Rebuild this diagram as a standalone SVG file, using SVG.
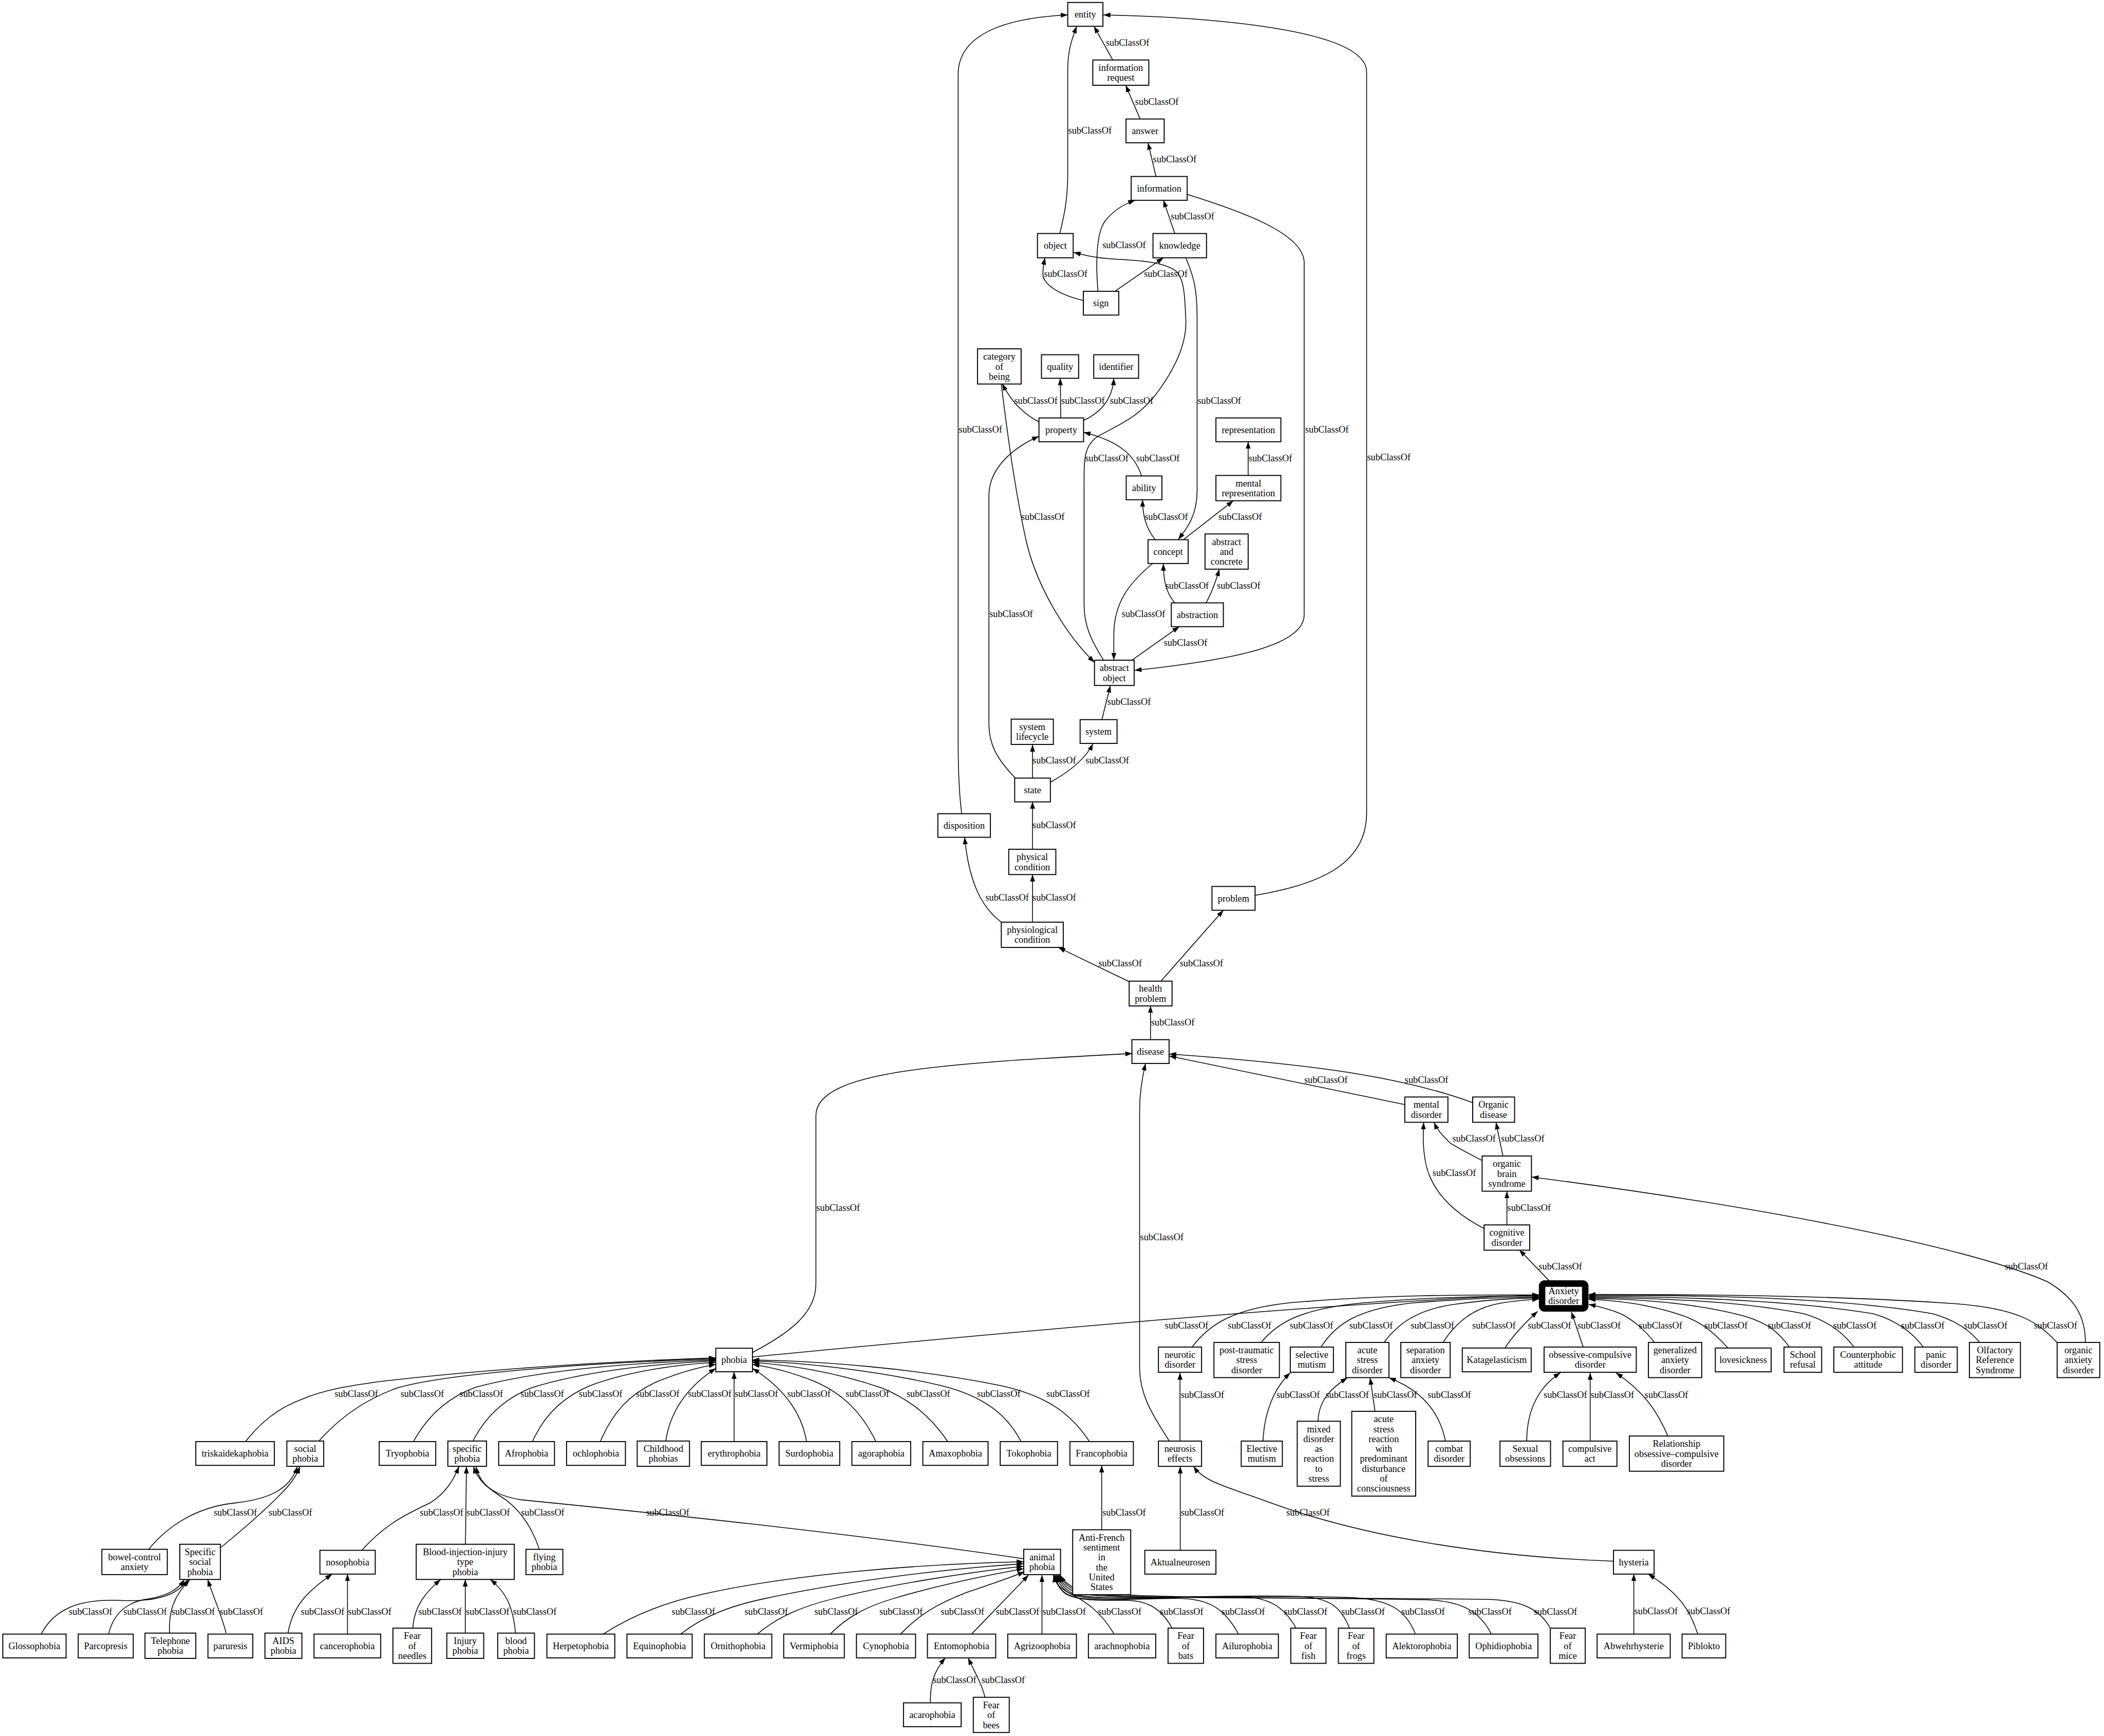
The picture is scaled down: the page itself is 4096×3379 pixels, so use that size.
<svg xmlns="http://www.w3.org/2000/svg" width="4096" height="3379" viewBox="0 0 4096 3379">
<defs>
<marker id="ah" markerUnits="userSpaceOnUse" markerWidth="14" markerHeight="10" refX="14" refY="5" orient="auto" viewBox="0 0 14 10"><path d="M0,0L14,5L0,10z" fill="#000" stroke="none"/></marker>
</defs>
<style>
.n rect{fill:#fff;stroke:#000;stroke-width:2}
text{font-family:"Liberation Serif","Times New Roman",serif;font-size:19px;fill:#000}
.n text{text-anchor:middle}
.e path{fill:none;stroke:#000;stroke-width:1.6;marker-end:url(#ah)}
.e text{text-anchor:start}
</style>
<rect width="4096" height="3379" fill="#fff"/>
<g transform="scale(0.965)">
<g id="connectors" class="e">
<path d="M2245,121 L2207,53"/><text x="2231" y="92.5">subClassOf</text>
<path d="M2300,240 L2271,172"/><text x="2290" y="211.5">subClassOf</text>
<path d="M2332,356 L2316,288"/><text x="2326" y="327">subClassOf</text>
<path d="M2370,471 L2347,404"/><text x="2362" y="443">subClassOf</text>
<path d="M2138,471 C2148,430 2154,400 2154,350 L2154,140 C2154,100 2164,75 2172,53"/><text x="2155" y="269.5">subClassOf</text>
<path d="M2215,587 C2211,540 2210,470 2230,445 C2250,420 2272,410 2290,404"/><text x="2224" y="501">subClassOf</text>
<path d="M2185,606 C2140,595 2102,575 2104,550 C2104,540 2106,530 2108,520"/><text x="2106" y="559">subClassOf</text>
<path d="M2250,587 L2347,520"/><text x="2308" y="559">subClassOf</text>
<path d="M2226,1331 C2200,1290 2187,1260 2187,1220 L2187,985 C2187,930 2185,900 2215,880 C2260,855 2300,840 2336,790 C2380,730 2395,680 2392,640 C2390,600 2390,560 2370,545 C2340,525 2280,525 2240,522 C2210,520 2190,515 2166,509"/><text x="2189" y="930.5">subClassOf</text>
<path d="M2395,392 C2500,425 2631,470 2631,530 L2631,1240 C2631,1300 2500,1330 2289,1352"/><text x="2633" y="872.5">subClassOf</text>
<path d="M2392,520 C2410,560 2415,590 2415,640 L2415,990 C2415,1040 2395,1065 2377,1088"/><text x="2416" y="814">subClassOf</text>
<path d="M2096,851 C2065,835 2040,810 2022,774"/><text x="2046" y="814.5">subClassOf</text>
<path d="M2140,843 L2139,763"/><text x="2141" y="814.5">subClassOf</text>
<path d="M2186,848 C2225,830 2245,800 2247,763"/><text x="2239" y="814.5">subClassOf</text>
<path d="M2303,960 C2290,920 2260,890 2186,872"/><text x="2292" y="930.5">subClassOf</text>
<path d="M2048,1569 C2010,1530 1995,1500 1995,1460 L1995,1000 C1995,940 2050,900 2096,880"/><text x="1996" y="1244.5">subClassOf</text>
<path d="M2020,774 C2035,900 2050,1000 2070,1090 C2090,1180 2150,1280 2208,1336"/><text x="2060" y="1048.5">subClassOf</text>
<path d="M2330,1088 C2312,1065 2305,1040 2305,1008"/><text x="2309" y="1048.5">subClassOf</text>
<path d="M2518,959 L2518,891"/><text x="2519" y="930.5">subClassOf</text>
<path d="M2388,1088 L2488,1010"/><text x="2458" y="1048.5">subClassOf</text>
<path d="M2326,1136 C2285,1170 2247,1210 2247,1280 L2247,1331"/><text x="2263" y="1244.5">subClassOf</text>
<path d="M2370,1216 C2352,1195 2347,1170 2347,1137"/><text x="2351" y="1187.5">subClassOf</text>
<path d="M2433,1216 C2445,1195 2452,1175 2460,1148"/><text x="2455" y="1187.5">subClassOf</text>
<path d="M2283,1332 L2379,1264"/><text x="2348" y="1303">subClassOf</text>
<path d="M2223,1451 L2240,1383"/><text x="2234" y="1421.5">subClassOf</text>
<path d="M2083,1569 L2083,1502"/><text x="2083" y="1540">subClassOf</text>
<path d="M2119,1578 C2160,1555 2190,1530 2205,1500"/><text x="2190" y="1540">subClassOf</text>
<path d="M2083,1713 L2083,1617"/><text x="2083" y="1670">subClassOf</text>
<path d="M2083,1860 L2083,1764"/><text x="2083" y="1817">subClassOf</text>
<path d="M2020,1860 C1980,1830 1955,1780 1946,1689"/><text x="1988" y="1817">subClassOf</text>
<path d="M1940,1641 C1935,1600 1933,1560 1933,1500 L1933,150 C1933,60 2050,35 2154,30"/><text x="1934" y="872.5">subClassOf</text>
<path d="M2532,1806 C2650,1785 2757,1750 2757,1640 L2757,145 C2757,60 2450,35 2226,30"/><text x="2758" y="928.5">subClassOf</text>
<path d="M2278,1980 L2135,1911"/><text x="2216" y="1949.5">subClassOf</text>
<path d="M2342,1979 L2468,1836"/><text x="2380" y="1949.5">subClassOf</text>
<path d="M2321,2097 L2321,2029"/><text x="2322" y="2068">subClassOf</text>
<path d="M2834,2228 L2359,2130"/><text x="2631" y="2184.5">subClassOf</text>
<path d="M2971,2224 C2850,2180 2700,2150 2359,2126"/><text x="2834" y="2184.5">subClassOf</text>
<path d="M2990,2341 C2960,2325 2935,2312 2925,2305 C2910,2290 2900,2280 2893,2264"/><text x="2930" y="2303">subClassOf</text>
<path d="M3032,2332 L3018,2264"/><text x="3028" y="2303">subClassOf</text>
<path d="M2994,2478 C2930,2445 2885,2400 2875,2340 C2870,2310 2871,2290 2872,2264"/><text x="2890" y="2372.5">subClassOf</text>
<path d="M3040,2471 L3040,2403"/><text x="3041" y="2442">subClassOf</text>
<path d="M3125,2583 L3065,2521"/><text x="3104" y="2560.5">subClassOf</text>
<path d="M4207,2708 C4207,2660 4190,2620 4130,2585 C3980,2520 3600,2440 3090,2374"/><text x="4044" y="2560.5">subClassOf</text>
<path d="M2359,2907 C2330,2860 2300,2820 2299,2760 L2299,2240 C2299,2200 2305,2170 2311,2145"/><text x="2300" y="2501.5">subClassOf</text>
<path d="M1518,2728 C1590,2690 1646,2650 1646,2590 L1646,2250 C1646,2160 1900,2145 2284,2125"/><text x="1647" y="2442.5">subClassOf</text>
<path d="M1518,2737 C1900,2700 2700,2625 3105,2612"/><text x="2350" y="2679.5">subClassOf</text>
<path d="M2405,2717 C2440,2670 2490,2640 2600,2628 C2800,2610 3000,2612 3105,2612"/><text x="2477" y="2679.5">subClassOf</text>
<path d="M2544,2708 C2575,2670 2620,2640 2750,2628 C2900,2615 3050,2614 3105,2614"/><text x="2602" y="2679.5">subClassOf</text>
<path d="M2665,2717 C2695,2670 2740,2640 2850,2628 C2950,2620 3050,2616 3105,2616"/><text x="2722" y="2679.5">subClassOf</text>
<path d="M2792,2708 C2820,2670 2860,2640 2940,2630 C3000,2622 3060,2618 3105,2618"/><text x="2846" y="2679.5">subClassOf</text>
<path d="M2911,2708 C2935,2670 2970,2640 3020,2630 C3050,2624 3080,2622 3105,2620"/><text x="2970" y="2679.5">subClassOf</text>
<path d="M3036,2719 C3055,2690 3080,2665 3102,2645"/><text x="3082" y="2679.5">subClassOf</text>
<path d="M3194,2717 L3170,2646"/><text x="3182" y="2679.5">subClassOf</text>
<path d="M3338,2708 C3320,2685 3295,2662 3270,2650 C3245,2640 3225,2635 3205,2631"/><text x="3306" y="2679.5">subClassOf</text>
<path d="M3486,2719 C3455,2685 3430,2665 3390,2652 C3330,2632 3260,2622 3205,2621"/><text x="3438" y="2679.5">subClassOf</text>
<path d="M3610,2717 C3590,2690 3570,2670 3520,2655 C3420,2628 3300,2620 3205,2619"/><text x="3566" y="2679.5">subClassOf</text>
<path d="M3740,2717 C3720,2690 3690,2665 3640,2650 C3500,2622 3320,2618 3205,2617"/><text x="3698" y="2679.5">subClassOf</text>
<path d="M3880,2717 C3860,2690 3830,2665 3780,2650 C3600,2620 3350,2615 3205,2615"/><text x="3835" y="2679.5">subClassOf</text>
<path d="M3994,2708 C3975,2685 3950,2665 3900,2650 C3700,2615 3400,2612 3205,2613"/><text x="3962" y="2679.5">subClassOf</text>
<path d="M4150,2708 C4110,2665 4070,2640 3950,2630 C3700,2612 3400,2611 3205,2611"/><text x="4103" y="2679.5">subClassOf</text>
<path d="M2380.5,2907 L2380.5,2769"/><text x="2382" y="2819.5">subClassOf</text>
<path d="M2548,2907 C2550,2850 2570,2800 2603,2769"/><text x="2575" y="2819.5">subClassOf</text>
<path d="M2659,2867 C2660,2825 2685,2800 2718,2779"/><text x="2674" y="2819.5">subClassOf</text>
<path d="M2774,2847 L2764,2779"/><text x="2771" y="2819.5">subClassOf</text>
<path d="M2916,2907 C2905,2850 2870,2805 2802,2779"/><text x="2880" y="2819.5">subClassOf</text>
<path d="M3080,2907 C3080,2850 3100,2800 3148,2769"/><text x="3114" y="2819.5">subClassOf</text>
<path d="M3208,2907 L3208,2769"/><text x="3209" y="2819.5">subClassOf</text>
<path d="M3365,2897 C3345,2850 3320,2810 3260,2769"/><text x="3318" y="2819.5">subClassOf</text>
<path d="M2381,3127 L2381,2958"/><text x="2382" y="3056.5">subClassOf</text>
<path d="M3255,3149 C3000,3140 2750,3100 2560,3030 C2480,3000 2430,2990 2408,2958"/><text x="2595" y="3056.5">subClassOf</text>
<path d="M3296,3296 L3296,3175"/><text x="3297" y="3255.5">subClassOf</text>
<path d="M3425,3296 C3410,3250 3390,3215 3325,3175"/><text x="3403" y="3255.5">subClassOf</text>
<path d="M2222.5,3086 L2222.5,2956"/><text x="2224" y="3056.5">subClassOf</text>
<path d="M495,2908 C525,2870 560,2840 610,2822 C650,2805 700,2795 780,2785 C1000,2760 1250,2745 1444,2739"/><text x="675" y="2817.5">subClassOf</text>
<path d="M643,2907 C680,2865 730,2825 800,2800 C900,2770 1200,2748 1444,2741"/><text x="808" y="2817.5">subClassOf</text>
<path d="M834,2908 C860,2860 900,2820 960,2798 C1100,2760 1300,2748 1444,2743"/><text x="927" y="2817.5">subClassOf</text>
<path d="M954,2907 C975,2865 1010,2825 1070,2800 C1180,2765 1330,2750 1444,2745"/><text x="1050" y="2817.5">subClassOf</text>
<path d="M1074,2908 C1095,2860 1130,2820 1190,2795 C1270,2765 1370,2752 1444,2748"/><text x="1168" y="2817.5">subClassOf</text>
<path d="M1211,2908 C1235,2850 1270,2810 1330,2785 C1380,2765 1420,2756 1444,2752"/><text x="1283" y="2817.5">subClassOf</text>
<path d="M1343,2907 C1350,2860 1375,2805 1444,2760"/><text x="1388" y="2817.5">subClassOf</text>
<path d="M1481,2908 L1481,2767"/><text x="1482" y="2817.5">subClassOf</text>
<path d="M1627,2908 C1620,2860 1590,2805 1518,2760"/><text x="1588" y="2817.5">subClassOf</text>
<path d="M1767,2908 C1740,2850 1700,2810 1640,2785 C1590,2765 1545,2756 1518,2752"/><text x="1706" y="2817.5">subClassOf</text>
<path d="M1912,2908 C1880,2860 1840,2825 1780,2800 C1680,2765 1580,2752 1518,2748"/><text x="1829" y="2817.5">subClassOf</text>
<path d="M2060,2908 C2030,2850 1980,2815 1900,2795 C1750,2760 1600,2748 1518,2745"/><text x="1971" y="2817.5">subClassOf</text>
<path d="M2198,2908 C2160,2850 2110,2815 2020,2795 C1850,2760 1650,2745 1518,2743"/><text x="2111" y="2817.5">subClassOf</text>
<path d="M300,3125 C340,3075 400,3040 470,3032 C540,3025 585,3005 600,2958"/><text x="431" y="3057">subClassOf</text>
<path d="M446,3121 C490,3085 530,3050 560,3020 C585,2995 597,2980 605,2958"/><text x="542" y="3057">subClassOf</text>
<path d="M83,3296 C110,3245 160,3225 240,3228 C320,3232 360,3215 379,3186"/><text x="139" y="3256.5">subClassOf</text>
<path d="M219,3296 C230,3250 260,3230 300,3225 C340,3218 360,3205 372,3186"/><text x="249" y="3256.5">subClassOf</text>
<path d="M342,3294 C340,3250 350,3220 383,3186"/><text x="346" y="3256.5">subClassOf</text>
<path d="M456,3294 C448,3260 430,3220 419,3186"/><text x="443" y="3256.5">subClassOf</text>
<path d="M581,3294 C590,3240 620,3210 670,3175"/><text x="607" y="3256.5">subClassOf</text>
<path d="M701,3296 L701,3175"/><text x="702" y="3256.5">subClassOf</text>
<path d="M730,3127 C780,3070 830,3050 870,3030 C900,3010 915,2985 926,2958"/><text x="847" y="3057">subClassOf</text>
<path d="M939,3115 L941,2958"/><text x="941" y="3057">subClassOf</text>
<path d="M1088,3125 C1070,3070 1040,3040 1020,3025 C990,3005 965,2990 955,2958"/><text x="1051" y="3057">subClassOf</text>
<path d="M2065,3144 C1700,3090 1300,3050 1050,3025 C990,3015 967,2990 960,2958"/><text x="1303" y="3057.5">subClassOf</text>
<path d="M833,3284 C835,3240 860,3210 889,3186"/><text x="844" y="3256.5">subClassOf</text>
<path d="M938.6,3294 L938.6,3186"/><text x="940" y="3256.5">subClassOf</text>
<path d="M1040,3294 C1035,3240 1020,3210 989,3186"/><text x="1035" y="3256.5">subClassOf</text>
<path d="M1877,3435 C1876,3395 1885,3370 1907,3344"/><text x="1882" y="3395.3">subClassOf</text>
<path d="M1987,3423 C1980,3395 1965,3370 1953,3344"/><text x="1980" y="3395.3">subClassOf</text>
<path d="M1217,3296 C1280,3255 1350,3230 1420,3215 C1600,3175 1850,3155 2065,3150"/><text x="1355" y="3256.5">subClassOf</text>
<path d="M1373,3296 C1420,3260 1470,3240 1540,3225 C1700,3190 1900,3165 2065,3154"/><text x="1502" y="3256.5">subClassOf</text>
<path d="M1528,3296 C1570,3260 1620,3240 1680,3225 C1800,3195 1950,3172 2065,3159"/><text x="1643" y="3256.5">subClassOf</text>
<path d="M1675,3296 C1710,3260 1750,3240 1800,3225 C1900,3195 1990,3178 2065,3164"/><text x="1774" y="3256.5">subClassOf</text>
<path d="M1817,3296 C1850,3260 1890,3235 1950,3212 C2000,3195 2040,3182 2067,3170"/><text x="1898" y="3256.5">subClassOf</text>
<path d="M1960,3296 L2075,3177"/><text x="2009" y="3256.5">subClassOf</text>
<path d="M2102,3296 L2102,3177"/><text x="2103" y="3256.5">subClassOf</text>
<path d="M2247,3295 C2220,3250 2190,3230 2160,3215 C2140,3205 2130,3195 2125,3177"/><text x="2215" y="3256.5">subClassOf</text>
<path d="M2364,3283 C2340,3240 2310,3228 2270,3228 C2210,3228 2160,3230 2140,3205 C2132,3195 2128,3188 2127,3177"/><text x="2340" y="3256.5">subClassOf</text>
<path d="M2498,3295 C2470,3245 2440,3225 2380,3224 C2300,3223 2180,3235 2150,3215 C2136,3205 2131,3190 2129,3177"/><text x="2464" y="3256.5">subClassOf</text>
<path d="M2614,3283 C2590,3240 2560,3222 2500,3220 C2380,3218 2200,3235 2160,3215 C2142,3205 2134,3190 2131,3177"/><text x="2590" y="3256.5">subClassOf</text>
<path d="M2722,3283 C2705,3240 2680,3222 2620,3220 C2450,3215 2210,3232 2165,3215 C2147,3205 2137,3190 2133,3177"/><text x="2706" y="3256.5">subClassOf</text>
<path d="M2855,3295 C2835,3245 2800,3225 2720,3222 C2500,3215 2220,3230 2170,3212 C2152,3205 2140,3190 2135,3177"/><text x="2827" y="3256.5">subClassOf</text>
<path d="M3008,3295 C2985,3250 2950,3230 2880,3227 C2600,3220 2230,3228 2175,3210 C2157,3203 2143,3190 2137,3177"/><text x="2962" y="3256.5">subClassOf</text>
<path d="M3127,3283 C3105,3245 3070,3228 3000,3226 C2700,3222 2240,3226 2180,3208 C2162,3202 2146,3190 2139,3177"/><text x="3094" y="3256.5">subClassOf</text>
</g>
<g id="nodes">
<g id="n-entity" class="n"><rect x="2154" y="5" width="71" height="48"/><text x="2189.5" y="35.5">entity</text></g>
<g id="n-information-request" class="n"><rect x="2204.6" y="121" width="113" height="51"/><text x="2261" y="143">information</text><text x="2261" y="163">request</text></g>
<g id="n-answer" class="n"><rect x="2271.6" y="240" width="77" height="48"/><text x="2310" y="270.5">answer</text></g>
<g id="n-information" class="n"><rect x="2282" y="356" width="113" height="48"/><text x="2338.5" y="386.5">information</text></g>
<g id="n-object" class="n"><rect x="2093" y="471" width="72" height="49"/><text x="2129" y="502">object</text></g>
<g id="n-knowledge" class="n"><rect x="2326" y="471" width="108" height="49"/><text x="2380" y="502">knowledge</text></g>
<g id="n-sign" class="n"><rect x="2185.5" y="587.5" width="71.5" height="48"/><text x="2221" y="618">sign</text></g>
<g id="n-category-of-being" class="n"><rect x="1972" y="703.6" width="88" height="71"/><text x="2016" y="725.6">category</text><text x="2016" y="745.6">of</text><text x="2016" y="765.6">being</text></g>
<g id="n-quality" class="n"><rect x="2101" y="715.5" width="75" height="47.5"/><text x="2138.5" y="745.7">quality</text></g>
<g id="n-identifier" class="n"><rect x="2206.5" y="715.5" width="90.5" height="47.5"/><text x="2251.7" y="745.7">identifier</text></g>
<g id="n-property" class="n"><rect x="2096" y="843" width="90" height="48"/><text x="2141" y="873.5">property</text></g>
<g id="n-representation" class="n"><rect x="2453" y="843" width="131" height="48"/><text x="2518.5" y="873.5">representation</text></g>
<g id="n-ability" class="n"><rect x="2272" y="960" width="72" height="48"/><text x="2308" y="990.5">ability</text></g>
<g id="n-mental-representation" class="n"><rect x="2453" y="959" width="131" height="51"/><text x="2518.5" y="981">mental</text><text x="2518.5" y="1001">representation</text></g>
<g id="n-concept" class="n"><rect x="2316" y="1088.6" width="81" height="48"/><text x="2356.5" y="1119.1">concept</text></g>
<g id="n-abstract-and-concrete" class="n"><rect x="2431" y="1077" width="87" height="71"/><text x="2474.5" y="1099">abstract</text><text x="2474.5" y="1119">and</text><text x="2474.5" y="1139">concrete</text></g>
<g id="n-abstraction" class="n"><rect x="2363" y="1216" width="105" height="48"/><text x="2415.5" y="1246.5">abstraction</text></g>
<g id="n-abstract-object" class="n"><rect x="2208" y="1331.6" width="80" height="51"/><text x="2248" y="1353.6">abstract</text><text x="2248" y="1373.6">object</text></g>
<g id="n-system-lifecycle" class="n"><rect x="2040" y="1450.5" width="85" height="51"/><text x="2082.5" y="1472.5">system</text><text x="2082.5" y="1492.5">lifecycle</text></g>
<g id="n-system" class="n"><rect x="2179" y="1451.5" width="74.5" height="48"/><text x="2216" y="1482">system</text></g>
<g id="n-state" class="n"><rect x="2047" y="1569.4" width="72" height="48"/><text x="2083" y="1599.9">state</text></g>
<g id="n-disposition" class="n"><rect x="1892" y="1641.3" width="106" height="47.5"/><text x="1945" y="1671.5">disposition</text></g>
<g id="n-physical-condition" class="n"><rect x="2035" y="1713" width="95" height="51"/><text x="2082.5" y="1735">physical</text><text x="2082.5" y="1755">condition</text></g>
<g id="n-problem" class="n"><rect x="2445" y="1788" width="87" height="48"/><text x="2488.5" y="1818.5">problem</text></g>
<g id="n-physiological-condition" class="n"><rect x="2020" y="1860" width="125" height="51"/><text x="2082.5" y="1882">physiological</text><text x="2082.5" y="1902">condition</text></g>
<g id="n-health-problem" class="n"><rect x="2278" y="1979" width="86.5" height="50"/><text x="2321" y="2000.5">health</text><text x="2321" y="2020.5">problem</text></g>
<g id="n-disease" class="n"><rect x="2283.5" y="2097" width="75" height="48"/><text x="2321" y="2127.5">disease</text></g>
<g id="n-mental-disorder" class="n"><rect x="2834" y="2212.7" width="87" height="51"/><text x="2877.5" y="2234.7">mental</text><text x="2877.5" y="2254.7">disorder</text></g>
<g id="n-organic-disease" class="n"><rect x="2971" y="2212.7" width="84.5" height="51"/><text x="3013" y="2234.7">Organic</text><text x="3013" y="2254.7">disease</text></g>
<g id="n-organic-brain-syndrome" class="n"><rect x="2990" y="2331.7" width="99.5" height="71"/><text x="3040" y="2353.7">organic</text><text x="3040" y="2373.7">brain</text><text x="3040" y="2393.7">syndrome</text></g>
<g id="n-cognitive-disorder" class="n"><rect x="2994" y="2470.7" width="92" height="51"/><text x="3040" y="2492.7">cognitive</text><text x="3040" y="2512.7">disorder</text></g>
<g id="n-anxiety-disorder" class="n"><rect x="3111" y="2589" width="87" height="50" rx="5" style="stroke-width:13"/><text x="3154.5" y="2610.5">Anxiety</text><text x="3154.5" y="2630.5">disorder</text></g>
<g id="n-neurotic-disorder" class="n"><rect x="2337" y="2717" width="87" height="51"/><text x="2380.5" y="2739">neurotic</text><text x="2380.5" y="2759">disorder</text></g>
<g id="n-ptsd" class="n"><rect x="2449" y="2707.7" width="132" height="71"/><text x="2515" y="2729.7">post-traumatic</text><text x="2515" y="2749.7">stress</text><text x="2515" y="2769.7">disorder</text></g>
<g id="n-selective-mutism" class="n"><rect x="2603" y="2717" width="87" height="51"/><text x="2646.5" y="2739">selective</text><text x="2646.5" y="2759">mutism</text></g>
<g id="n-acute-stress-disorder" class="n"><rect x="2715" y="2707.7" width="87" height="71"/><text x="2758.5" y="2729.7">acute</text><text x="2758.5" y="2749.7">stress</text><text x="2758.5" y="2769.7">disorder</text></g>
<g id="n-separation-anxiety-disorder" class="n"><rect x="2826" y="2707.7" width="99.5" height="71"/><text x="2875.7" y="2729.7">separation</text><text x="2875.7" y="2749.7">anxiety</text><text x="2875.7" y="2769.7">disorder</text></g>
<g id="n-katagelasticism" class="n"><rect x="2950" y="2719" width="139" height="48"/><text x="3019.5" y="2749.5">Katagelasticism</text></g>
<g id="n-ocd" class="n"><rect x="3115" y="2717" width="186" height="51"/><text x="3208" y="2739">obsessive-compulsive</text><text x="3208" y="2759">disorder</text></g>
<g id="n-generalized-anxiety-disorder" class="n"><rect x="3325.5" y="2707.7" width="107.5" height="71"/><text x="3379.2" y="2729.7">generalized</text><text x="3379.2" y="2749.7">anxiety</text><text x="3379.2" y="2769.7">disorder</text></g>
<g id="n-lovesickness" class="n"><rect x="3460.5" y="2719" width="112.5" height="48"/><text x="3516.7" y="2749.5">lovesickness</text></g>
<g id="n-school-refusal" class="n"><rect x="3599" y="2717" width="76" height="51"/><text x="3637" y="2739">School</text><text x="3637" y="2759">refusal</text></g>
<g id="n-counterphobic-attitude" class="n"><rect x="3699.5" y="2717" width="138.5" height="51"/><text x="3768.7" y="2739">Counterphobic</text><text x="3768.7" y="2759">attitude</text></g>
<g id="n-panic-disorder" class="n"><rect x="3863" y="2717" width="85.5" height="51"/><text x="3905.7" y="2739">panic</text><text x="3905.7" y="2759">disorder</text></g>
<g id="n-olfactory-reference-syndrome" class="n"><rect x="3973" y="2707.7" width="103" height="71"/><text x="4024.5" y="2729.7">Olfactory</text><text x="4024.5" y="2749.7">Reference</text><text x="4024.5" y="2769.7">Syndrome</text></g>
<g id="n-organic-anxiety-disorder" class="n"><rect x="4150" y="2707.7" width="86" height="71"/><text x="4193" y="2729.7">organic</text><text x="4193" y="2749.7">anxiety</text><text x="4193" y="2769.7">disorder</text></g>
<g id="n-neurosis-effects" class="n"><rect x="2337" y="2906.7" width="87" height="51"/><text x="2380.5" y="2928.7">neurosis</text><text x="2380.5" y="2948.7">effects</text></g>
<g id="n-elective-mutism" class="n"><rect x="2504" y="2906.7" width="83" height="51"/><text x="2545.5" y="2928.7">Elective</text><text x="2545.5" y="2948.7">mutism</text></g>
<g id="n-mixed-disorder" class="n"><rect x="2617" y="2866.7" width="87" height="131"/><text x="2660.5" y="2888.7">mixed</text><text x="2660.5" y="2908.7">disorder</text><text x="2660.5" y="2928.7">as</text><text x="2660.5" y="2948.7">reaction</text><text x="2660.5" y="2968.7">to</text><text x="2660.5" y="2988.7">stress</text></g>
<g id="n-acute-stress-reaction" class="n"><rect x="2727" y="2846.7" width="129" height="171"/><text x="2791.5" y="2868.7">acute</text><text x="2791.5" y="2888.7">stress</text><text x="2791.5" y="2908.7">reaction</text><text x="2791.5" y="2928.7">with</text><text x="2791.5" y="2948.7">predominant</text><text x="2791.5" y="2968.7">disturbance</text><text x="2791.5" y="2988.7">of</text><text x="2791.5" y="3008.7">consciousness</text></g>
<g id="n-combat-disorder" class="n"><rect x="2881" y="2906.7" width="85" height="51"/><text x="2923.5" y="2928.7">combat</text><text x="2923.5" y="2948.7">disorder</text></g>
<g id="n-sexual-obsessions" class="n"><rect x="3026" y="2906.7" width="102" height="51"/><text x="3077" y="2928.7">Sexual</text><text x="3077" y="2948.7">obsessions</text></g>
<g id="n-compulsive-act" class="n"><rect x="3153" y="2906.7" width="109" height="51"/><text x="3207.5" y="2928.7">compulsive</text><text x="3207.5" y="2948.7">act</text></g>
<g id="n-relationship-ocd" class="n"><rect x="3287" y="2896.5" width="190.5" height="71"/><text x="3382.2" y="2918.5">Relationship</text><text x="3382.2" y="2938.5">obsessive–compulsive</text><text x="3382.2" y="2958.5">disorder</text></g>
<g id="n-phobia" class="n"><rect x="1444" y="2719.4" width="74" height="47.5"/><text x="1481" y="2749.6">phobia</text></g>
<g id="n-triskaidekaphobia" class="n"><rect x="395" y="2907.7" width="158.5" height="48"/><text x="474.2" y="2938.2">triskaidekaphobia</text></g>
<g id="n-social-phobia" class="n"><rect x="578.7" y="2906.6" width="74.3" height="51"/><text x="615.8" y="2928.6">social</text><text x="615.8" y="2948.6">phobia</text></g>
<g id="n-tryophobia" class="n"><rect x="765" y="2907.7" width="114" height="48"/><text x="822" y="2938.2">Tryophobia</text></g>
<g id="n-specific-phobia" class="n"><rect x="903.5" y="2906.6" width="78" height="51"/><text x="942.5" y="2928.6">specific</text><text x="942.5" y="2948.6">phobia</text></g>
<g id="n-afrophobia" class="n"><rect x="1006" y="2907.7" width="112.6" height="48"/><text x="1062.3" y="2938.2">Afrophobia</text></g>
<g id="n-ochlophobia" class="n"><rect x="1143" y="2907.7" width="118.7" height="48"/><text x="1202.3" y="2938.2">ochlophobia</text></g>
<g id="n-childhood-phobias" class="n"><rect x="1285.5" y="2906.6" width="105.5" height="51"/><text x="1338.2" y="2928.6">Childhood</text><text x="1338.2" y="2948.6">phobias</text></g>
<g id="n-erythrophobia" class="n"><rect x="1414.8" y="2907.7" width="132.4" height="48"/><text x="1481" y="2938.2">erythrophobia</text></g>
<g id="n-surdophobia" class="n"><rect x="1571.7" y="2907.7" width="122.3" height="48"/><text x="1632.8" y="2938.2">Surdophobia</text></g>
<g id="n-agoraphobia" class="n"><rect x="1718.6" y="2907.7" width="118.6" height="48"/><text x="1777.9" y="2938.2">agoraphobia</text></g>
<g id="n-amaxophobia" class="n"><rect x="1861.7" y="2907.7" width="131.6" height="48"/><text x="1927.5" y="2938.2">Amaxophobia</text></g>
<g id="n-tokophobia" class="n"><rect x="2017.8" y="2907.7" width="115.6" height="48"/><text x="2075.6" y="2938.2">Tokophobia</text></g>
<g id="n-francophobia" class="n"><rect x="2158.4" y="2907.7" width="128" height="48"/><text x="2222.4" y="2938.2">Francophobia</text></g>
<g id="n-bowel-control-anxiety" class="n"><rect x="205.5" y="3125" width="132" height="51"/><text x="271.5" y="3147">bowel-control</text><text x="271.5" y="3167">anxiety</text></g>
<g id="n-specific-social-phobia" class="n"><rect x="362.7" y="3114.8" width="82" height="71"/><text x="403.7" y="3136.8">Specific</text><text x="403.7" y="3156.8">social</text><text x="403.7" y="3176.8">phobia</text></g>
<g id="n-nosophobia" class="n"><rect x="645.4" y="3127" width="111.6" height="48"/><text x="701.2" y="3157.5">nosophobia</text></g>
<g id="n-blood-injection-injury" class="n"><rect x="839.7" y="3114.8" width="197.8" height="71"/><text x="938.6" y="3136.8">Blood-injection-injury</text><text x="938.6" y="3156.8">type</text><text x="938.6" y="3176.8">phobia</text></g>
<g id="n-flying-phobia" class="n"><rect x="1061" y="3125" width="74.5" height="51"/><text x="1098.2" y="3147">flying</text><text x="1098.2" y="3167">phobia</text></g>
<g id="n-animal-phobia" class="n"><rect x="2065.3" y="3125" width="74.2" height="51"/><text x="2102.4" y="3147">animal</text><text x="2102.4" y="3167">phobia</text></g>
<g id="n-anti-french" class="n"><rect x="2164" y="3085.6" width="117" height="131"/><text x="2222.5" y="3107.6">Anti-French</text><text x="2222.5" y="3127.6">sentiment</text><text x="2222.5" y="3147.6">in</text><text x="2222.5" y="3167.6">the</text><text x="2222.5" y="3187.6">United</text><text x="2222.5" y="3207.6">States</text></g>
<g id="n-aktualneurosen" class="n"><rect x="2309.5" y="3127" width="143.5" height="48"/><text x="2381.2" y="3157.5">Aktualneurosen</text></g>
<g id="n-hysteria" class="n"><rect x="3255" y="3127" width="82" height="48"/><text x="3296" y="3157.5">hysteria</text></g>
<g id="n-glossophobia" class="n"><rect x="5.6" y="3296" width="127.7" height="48"/><text x="69.4" y="3326.5">Glossophobia</text></g>
<g id="n-parcopresis" class="n"><rect x="157.8" y="3296" width="111" height="48"/><text x="213.3" y="3326.5">Parcopresis</text></g>
<g id="n-telephone-phobia" class="n"><rect x="292.5" y="3294" width="102.5" height="51"/><text x="343.7" y="3316">Telephone</text><text x="343.7" y="3336">phobia</text></g>
<g id="n-paruresis" class="n"><rect x="419.5" y="3296" width="90.5" height="48"/><text x="464.7" y="3326.5">paruresis</text></g>
<g id="n-aids-phobia" class="n"><rect x="534.5" y="3294" width="74.5" height="51"/><text x="571.7" y="3316">AIDS</text><text x="571.7" y="3336">phobia</text></g>
<g id="n-cancerophobia" class="n"><rect x="633.5" y="3296" width="134.5" height="48"/><text x="700.7" y="3326.5">cancerophobia</text></g>
<g id="n-fear-of-needles" class="n"><rect x="792.7" y="3284" width="78" height="71"/><text x="831.7" y="3306">Fear</text><text x="831.7" y="3326">of</text><text x="831.7" y="3346">needles</text></g>
<g id="n-injury-phobia" class="n"><rect x="901.4" y="3294" width="74.4" height="51"/><text x="938.6" y="3316">Injury</text><text x="938.6" y="3336">phobia</text></g>
<g id="n-blood-phobia" class="n"><rect x="1004" y="3294" width="74.2" height="51"/><text x="1041.1" y="3316">blood</text><text x="1041.1" y="3336">phobia</text></g>
<g id="n-herpetophobia" class="n"><rect x="1103.3" y="3296" width="137" height="48"/><text x="1171.8" y="3326.5">Herpetophobia</text></g>
<g id="n-equinophobia" class="n"><rect x="1264.8" y="3296" width="131.6" height="48"/><text x="1330.6" y="3326.5">Equinophobia</text></g>
<g id="n-ornithophobia" class="n"><rect x="1421" y="3296" width="136" height="48"/><text x="1489" y="3326.5">Ornithophobia</text></g>
<g id="n-vermiphobia" class="n"><rect x="1581" y="3296" width="122.3" height="48"/><text x="1642.1" y="3326.5">Vermiphobia</text></g>
<g id="n-cynophobia" class="n"><rect x="1727.8" y="3296" width="119.2" height="48"/><text x="1787.4" y="3326.5">Cynophobia</text></g>
<g id="n-entomophobia" class="n"><rect x="1871" y="3296" width="137.7" height="48"/><text x="1939.8" y="3326.5">Entomophobia</text></g>
<g id="n-agrizoophobia" class="n"><rect x="2033" y="3296" width="138.6" height="48"/><text x="2102.3" y="3326.5">Agrizoophobia</text></g>
<g id="n-arachnophobia" class="n"><rect x="2195.7" y="3296" width="135.8" height="48"/><text x="2263.6" y="3326.5">arachnophobia</text></g>
<g id="n-fear-of-bats" class="n"><rect x="2356.4" y="3284" width="71.6" height="71"/><text x="2392.2" y="3306">Fear</text><text x="2392.2" y="3326">of</text><text x="2392.2" y="3346">bats</text></g>
<g id="n-ailurophobia" class="n"><rect x="2453" y="3296" width="126" height="48"/><text x="2516" y="3326.5">Ailurophobia</text></g>
<g id="n-fear-of-fish" class="n"><rect x="2604" y="3284" width="71" height="71"/><text x="2639.5" y="3306">Fear</text><text x="2639.5" y="3326">of</text><text x="2639.5" y="3346">fish</text></g>
<g id="n-fear-of-frogs" class="n"><rect x="2700" y="3284" width="71.6" height="71"/><text x="2735.8" y="3306">Fear</text><text x="2735.8" y="3326">of</text><text x="2735.8" y="3346">frogs</text></g>
<g id="n-alektorophobia" class="n"><rect x="2796.5" y="3296" width="143.5" height="48"/><text x="2868.2" y="3326.5">Alektorophobia</text></g>
<g id="n-ophidiophobia" class="n"><rect x="2964" y="3296" width="138.6" height="48"/><text x="3033.3" y="3326.5">Ophidiophobia</text></g>
<g id="n-fear-of-mice" class="n"><rect x="3127.5" y="3284" width="70.5" height="71"/><text x="3162.7" y="3306">Fear</text><text x="3162.7" y="3326">of</text><text x="3162.7" y="3346">mice</text></g>
<g id="n-abwehrhysterie" class="n"><rect x="3222" y="3296" width="147.5" height="48"/><text x="3295.7" y="3326.5">Abwehrhysterie</text></g>
<g id="n-piblokto" class="n"><rect x="3393.4" y="3296" width="88" height="48"/><text x="3437.4" y="3326.5">Piblokto</text></g>
<g id="n-acarophobia" class="n"><rect x="1822.7" y="3434.7" width="116.3" height="48"/><text x="1880.8" y="3465.2">acarophobia</text></g>
<g id="n-fear-of-bees" class="n"><rect x="1963.5" y="3423.5" width="72.5" height="71"/><text x="1999.7" y="3445.5">Fear</text><text x="1999.7" y="3465.5">of</text><text x="1999.7" y="3485.5">bees</text></g>
</g>
</g>
</svg>
